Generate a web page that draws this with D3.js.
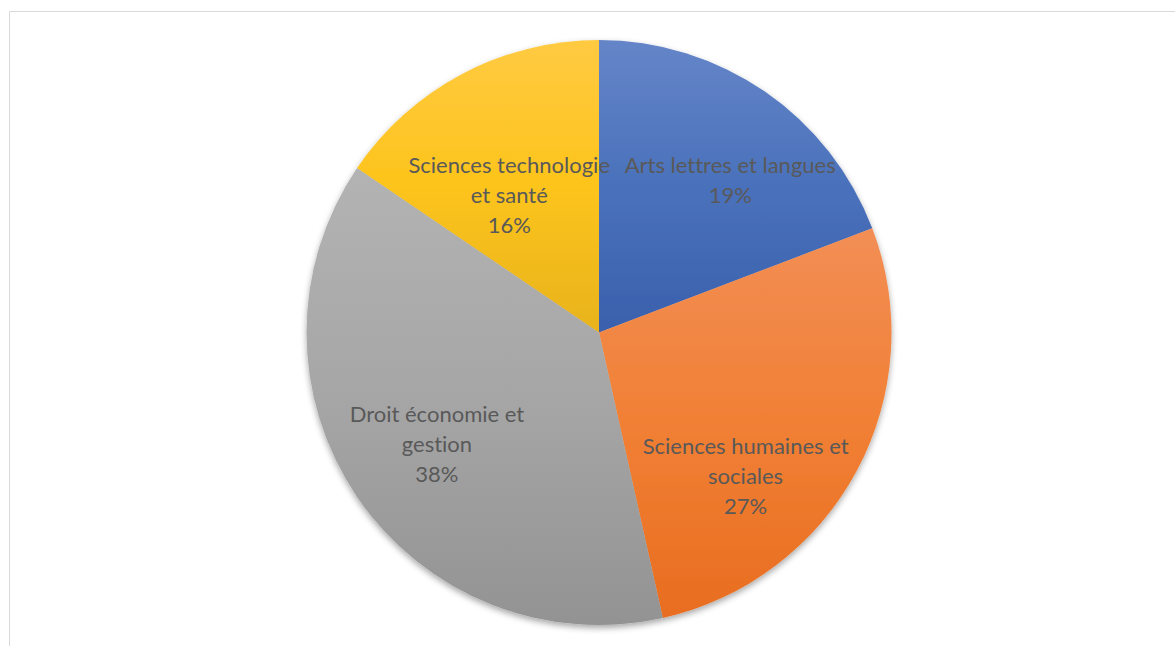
<!DOCTYPE html>
<html>
<head>
<meta charset="utf-8">
<script src="https://cdn.jsdelivr.net/npm/d3@7"></script>
<style>
  html, body { margin: 0; padding: 0; background: #fff; }
  svg { display: block; }
  text { font-variant-ligatures: none; font-feature-settings: "liga" 0, "clig" 0; }
</style>
</head>
<body>
<svg id="chart" width="1175" height="646"></svg>
<script>
// ---- data ----
const categories = [
  ["Arts lettres et langues"],
  ["Sciences humaines et", "sociales"],
  ["Droit économie et", "gestion"],
  ["Sciences technologie", "et santé"]
];
const values = [19.2, 27.3, 38.0, 15.5];
const gradStops = [
  ["#6585c8", "#4a71bb", "#3a60ad"],
  ["#f28e55", "#f18035", "#e86d20"],
  ["#b3b3b3", "#a6a6a6", "#939393"],
  ["#ffca42", "#fdc41b", "#e8b31e"]
];
// label placement (angle offset in degrees from slice middle, radius fraction)
const labelAngleOffset = [6, 16, 0, -5];
const labelRadiusFrac = [0.69, 0.70, 0.67, 0.565];

// ---- layout ----
const W = 1175, H = 646;
const cx = 599, cy = 332.5, R = 292.5;
const svg = d3.select("#chart");

// frame lines
svg.append("line").attr("x1", 9.5).attr("y1", 11.5).attr("x2", W).attr("y2", 11.5)
  .attr("stroke", "#d9d9d9").attr("stroke-width", 1);
svg.append("line").attr("x1", 9.5).attr("y1", 11.5).attr("x2", 9.5).attr("y2", H)
  .attr("stroke", "#d9d9d9").attr("stroke-width", 1);

const defs = svg.append("defs");
const f = defs.append("filter").attr("id", "shadow")
  .attr("x", "-10%").attr("y", "-10%").attr("width", "120%").attr("height", "120%");
f.append("feDropShadow").attr("dx", 0).attr("dy", 3).attr("stdDeviation", 3)
  .attr("flood-color", "#000").attr("flood-opacity", 0.35);

gradStops.forEach((stops, i) => {
  const g = defs.append("linearGradient").attr("id", "grad" + i)
    .attr("x1", 0).attr("y1", 0).attr("x2", 0).attr("y2", 1);
  stops.forEach((c, j) => g.append("stop").attr("offset", j / (stops.length - 1)).attr("stop-color", c));
});

const pie = d3.pie().sort(null).value(d => d)(values);
const arc = d3.arc().innerRadius(0).outerRadius(R);

const g = svg.append("g").attr("transform", `translate(${cx},${cy})`);
g.append("g").attr("filter", "url(#shadow)")
  .selectAll("path").data(pie).join("path")
  .attr("d", arc)
  .attr("fill", (d, i) => `url(#grad${i})`);

const total = d3.sum(values);
const lineH = 30;
const labels = g.append("g")
  .attr("font-family", "Lato, 'Open Sans', sans-serif")
  .attr("font-size", 22)
  .attr("fill", "#595959")
  .attr("text-anchor", "middle");

pie.forEach((d, i) => {
  const mid = (d.startAngle + d.endAngle) / 2 + labelAngleOffset[i] * Math.PI / 180;
  const [x, y] = d3.pointRadial(mid, R * labelRadiusFrac[i]);
  const lines = categories[i].concat([Math.round(d.value / total * 100) + "%"]);
  const n = lines.length;
  const t = labels.append("text").attr("dominant-baseline", "central");
  lines.forEach((ln, k) => {
    t.append("tspan").attr("x", x).attr("y", y + (k - (n - 1) / 2) * lineH).text(ln);
  });
});
</script>
</body>
</html>
